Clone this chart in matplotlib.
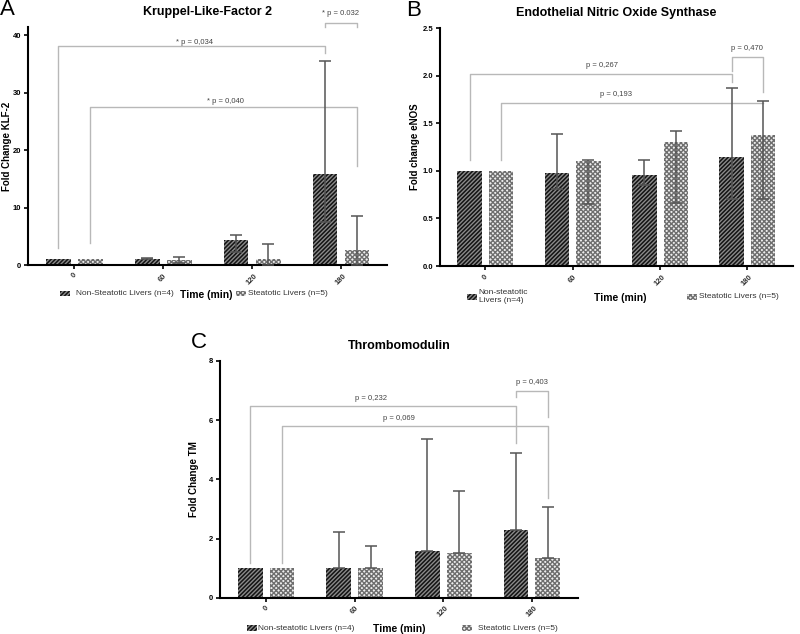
import numpy as np
import matplotlib
matplotlib.use("Agg")
import matplotlib.pyplot as plt
from matplotlib.patches import Rectangle

plt.rcParams["font.family"] = ["Liberation Sans", "DejaVu Sans"]
plt.rcParams["hatch.linewidth"] = 1.0

times = ["0", "60", "120", "180"]

# panel A: KLF-2
klf_non = [1.0, 1.1, 4.3, 15.9]
klf_non_lo = [1.0, 1.0, 2.3, 7.5]
klf_non_hi = [1.0, 1.2, 5.3, 35.5]
klf_ste = [1.0, 0.8, 1.1, 2.7]
klf_ste_lo = [1.0, 0.3, 0.0, 0.0]
klf_ste_hi = [1.0, 1.4, 3.7, 8.5]

# panel B: eNOS
enos_non = [1.0, 0.98, 0.96, 1.15]
enos_non_lo = [1.0, 0.81, 0.85, 0.71]
enos_non_hi = [1.0, 1.385, 1.11, 1.87]
enos_ste = [1.0, 1.10, 1.30, 1.38]
enos_ste_lo = [1.0, 0.65, 0.66, 0.70]
enos_ste_hi = [1.0, 1.11, 1.42, 1.735]

# panel C: TM
tm_non = [1.0, 1.02, 1.58, 2.30]
tm_non_hi = [1.0, 2.22, 5.37, 4.90]
tm_ste = [1.0, 1.02, 1.52, 1.36]
tm_ste_hi = [1.0, 1.74, 3.60, 3.07]

# brackets: (x1, x2, top, left_end, right_end, label, label_x, label_y)
klf_br = [(-0.18, 2.82, 38.1, 3.0, 36.9, "* p = 0,034", 1.35, 38.8),
          (0.18, 3.18, 27.5, 3.8, 17.2, "* p = 0,040", 1.7, 28.4),
          (2.82, 3.18, 42.2, 41.5, 41.5, "* p = 0.032", 3.0, 43.8)]
enos_br = [(-0.18, 2.82, 2.02, 1.12, 1.93, "p = 0,267", 1.33, 2.11),
           (0.18, 3.18, 1.71, 1.12, 1.71, "p = 0,193", 1.5, 1.80),
           (2.82, 3.18, 2.20, 2.05, 1.83, "p = 0,470", 3.0, 2.29)]
tm_br = [(-0.18, 2.82, 6.49, 1.18, 5.24, "p = 0,232", 1.18, 6.75),
         (0.18, 3.18, 5.81, 1.18, 3.38, "p = 0,069", 1.5, 6.05),
         (2.82, 3.18, 7.00, 6.80, 6.10, "p = 0,403", 3.0, 7.26)]

NON = dict(facecolor="#141414", edgecolor="#8a8a8a", hatch="////////", linewidth=0)
STE = dict(facecolor="#eeeeee", edgecolor="#6e6e6e", hatch="xxxxxxx", linewidth=0)
W, OFF = 0.28, 0.18
x = np.arange(len(times))


def panel(ax, non, non_lo, non_hi, ste, ste_lo, ste_hi, ymax, yticks, ylabel, ylab_x,
          title, brackets, leg_non, leg_pos):
    ax.bar(x - OFF, non, W, zorder=2, **NON)
    ax.bar(x + OFF, ste, W, zorder=2, **STE)
    for xs, m, lo, hi in [(x - OFF, non, non_lo, non_hi), (x + OFF, ste, ste_lo, ste_hi)]:
        for xi, mi, l, h in zip(xs, m, lo, hi):
            if h - l < 1e-6:
                continue
            ax.errorbar(xi, mi, yerr=[[mi - l], [h - mi]], color="#555555", lw=1.1,
                        capsize=4, capthick=1.1, zorder=3)
    for x1, x2, top, le, re, lab, lx, ly in brackets:
        ax.plot([x1, x1, x2, x2], [le, top, top, re], color="#b8b8b8", lw=1.0,
                zorder=1, clip_on=False)
        ax.text(lx, ly, lab, ha="center", va="center", fontsize=5.5, color="#444444")
    ax.set_xlim(-0.52, 3.52)
    ax.set_ylim(0, ymax)
    ax.set_yticks(yticks)
    ax.set_xticks(x)
    ax.set_xticklabels(times, rotation=45, fontsize=5.5, fontweight="bold", color="#333333")
    for t in ax.get_yticklabels():
        t.set_fontsize(5.5); t.set_fontweight("bold")
    ax.tick_params(axis="both", length=3, width=1.2, pad=2)
    for s in ["top", "right"]:
        ax.spines[s].set_visible(False)
    for s in ["left", "bottom"]:
        ax.spines[s].set_linewidth(1.5)
    ax.set_ylabel(ylabel, fontsize=7, fontweight="bold", va="center")
    ax.yaxis.set_label_coords(ylab_x, 0.5)
    ax.text(0.5, 1.065, title, transform=ax.transAxes, ha="center", va="center",
            fontsize=9, fontweight="bold")
    # legend row under the axis
    p1, t1, tm, p2, t2, ly = leg_pos
    for px, st in [(p1, NON), (p2, STE)]:
        ax.add_patch(Rectangle((px, ly - 0.012), 0.028, 0.024, transform=ax.transAxes,
                               clip_on=False, **st))
    ax.text(t1, ly, leg_non, transform=ax.transAxes, ha="left", va="center",
            fontsize=6, color="#333333", linespacing=1.2)
    ax.text(tm, ly - 0.005, "Time (min)", transform=ax.transAxes, ha="center",
            va="center", fontsize=7.5, fontweight="bold")
    ax.text(t2, ly, "Steatotic Livers (n=5)", transform=ax.transAxes, ha="left",
            va="center", fontsize=6, color="#333333")
    return ax


fig = plt.figure(figsize=(8, 6.34), dpi=100)
axA = fig.add_axes([0.035, 0.582, 0.449, 0.375])
axB = fig.add_axes([0.55, 0.5804, 0.441, 0.375])
axC = fig.add_axes([0.275, 0.0568, 0.4475, 0.3738])

panel(axA, klf_non, klf_non_lo, klf_non_hi, klf_ste, klf_ste_lo, klf_ste_hi, 41.4,
      [0, 10, 20, 30, 40], "Fold Change KLF-2", -0.058, "Kruppel-Like-Factor 2", klf_br,
      "Non-Steatotic Livers (n=4)", (0.089, 0.134, 0.495, 0.578, 0.612, -0.12))
panel(axB, enos_non, enos_non_lo, enos_non_hi, enos_ste, enos_ste_lo, enos_ste_hi, 2.5,
      [0.0, 0.5, 1.0, 1.5, 2.0, 2.5], "Fold change eNOS", -0.071,
      "Endothelial Nitric Oxide Synthase", enos_br, "Non-steatotic\nLivers (n=4)",
      (0.076, 0.11, 0.51, 0.70, 0.735, -0.13))
panel(axC, tm_non, tm_non, tm_non_hi, tm_ste, tm_ste, tm_ste_hi, 8,
      [0, 2, 4, 6, 8], "Fold Change TM", -0.073, "Thrombomodulin", tm_br,
      "Non-steatotic Livers (n=4)", (0.075, 0.105, 0.50, 0.676, 0.72, -0.127))
axB.yaxis.set_major_formatter(matplotlib.ticker.FormatStrFormatter("%.1f"))

fig.text(0.0, 0.985, "A", fontsize=16, va="center", ha="left")
fig.text(0.508, 0.984, "B", fontsize=16, va="center", ha="left")
fig.text(0.238, 0.459, "C", fontsize=16, va="center", ha="left")

fig.savefig("out.png", dpi=100)
